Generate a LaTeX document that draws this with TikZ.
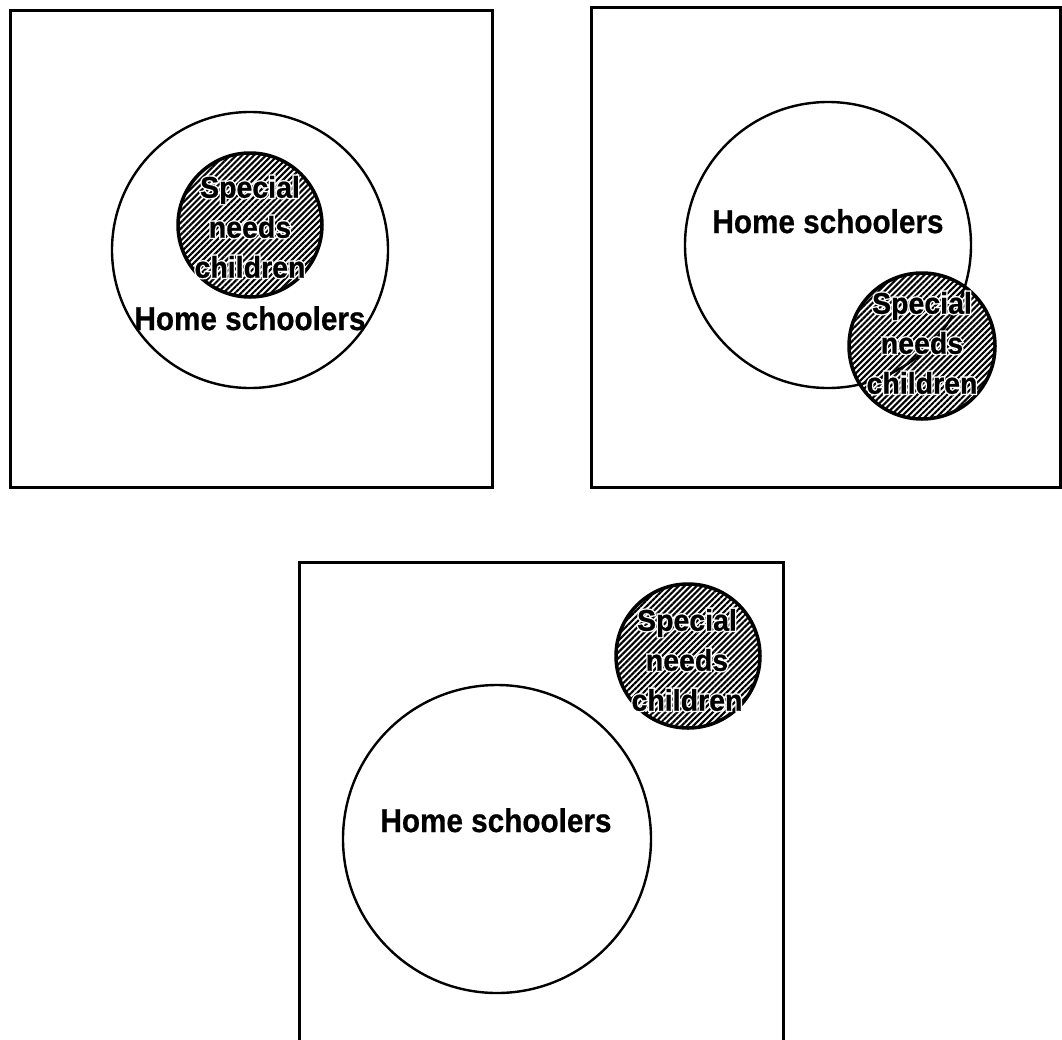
\documentclass[tikz,border=0pt]{standalone}
\usepackage{fontspec}
\newfontfamily\hsfont{Liberation Sans}[UprightFont={* Bold}, FakeStretch=0.9, FakeBold=0.6]
\newfontfamily\snfont{Liberation Sans}[UprightFont={* Bold}, FakeStretch=0.95, FakeBold=0.6]
\newfontfamily\snfonthalo{Liberation Sans}[UprightFont={* Bold}, FakeStretch=0.95, FakeBold=10]
\usetikzlibrary{patterns.meta}
\newcommand\haloed[3]{%
  \node[snclabel, font=\snfonthalo\fontsize{30}{40}\selectfont, text=white] (#1-halo) at (#2) {#3};
  \node[snclabel] (#1) at (#2) {#3};}
\begin{document}
\begin{tikzpicture}[x=1pt,y=-1pt,
  frame/.style={draw, line width=2.6pt},
  bigc/.style={circle, draw, line width=2.4pt, inner sep=0pt},
  smallc/.style={circle, draw, line width=3.5pt, inner sep=0pt,
    pattern={Lines[angle=45,distance=4.2pt,line width=2.1pt]}},
  hslabel/.style={font=\hsfont\fontsize{33}{40}\selectfont, inner sep=0pt, anchor=base},
  snclabel/.style={font=\snfont\fontsize{30}{40}\selectfont, align=center, inner sep=0pt},
]
\useasboundingbox (0,0) rectangle (1062,1039);
\clip (0,0) rectangle (1062,1039);
% boxes
\node[frame, rectangle, minimum width=482pt, minimum height=477pt, anchor=north west, inner sep=0pt] (box1) at (9,9) {};
\node[frame, rectangle, minimum width=469pt, minimum height=480pt, anchor=north west, inner sep=0pt] (box2) at (590,6) {};
\node[frame, rectangle, minimum width=484pt, minimum height=500pt, anchor=north west, inner sep=0pt] (box3) at (298,561) {};
% panel 1
\node[bigc, minimum size=276pt] (hs1) at (250,250) {};
\node[smallc, minimum size=144pt] (sn1) at (250,225) {};
\coordinate (sn1c) at (250,227);
\haloed{snt1}{sn1c}{Special\\needs\\children}
\node[hslabel] (hst1) at (250,330) {Home schoolers};
% panel 2
\node[smallc, minimum size=146pt] (sn2) at (922,346) {};
\node[bigc, minimum size=286pt] (hs2) at (828,245) {};
\coordinate (sn2c) at (922,343);
\haloed{snt2}{sn2c}{Special\\needs\\children}
\node[hslabel] (hst2) at (828,233) {Home schoolers};
% panel 3
\node[bigc, minimum size=308pt] (hs3) at (497,839) {};
\node[smallc, minimum size=144pt] (sn3) at (688,656) {};
\coordinate (sn3c) at (687,660);
\haloed{snt3}{sn3c}{Special\\needs\\children}
\node[hslabel] (hst3) at (496,832) {Home schoolers};
\end{tikzpicture}
\end{document}
